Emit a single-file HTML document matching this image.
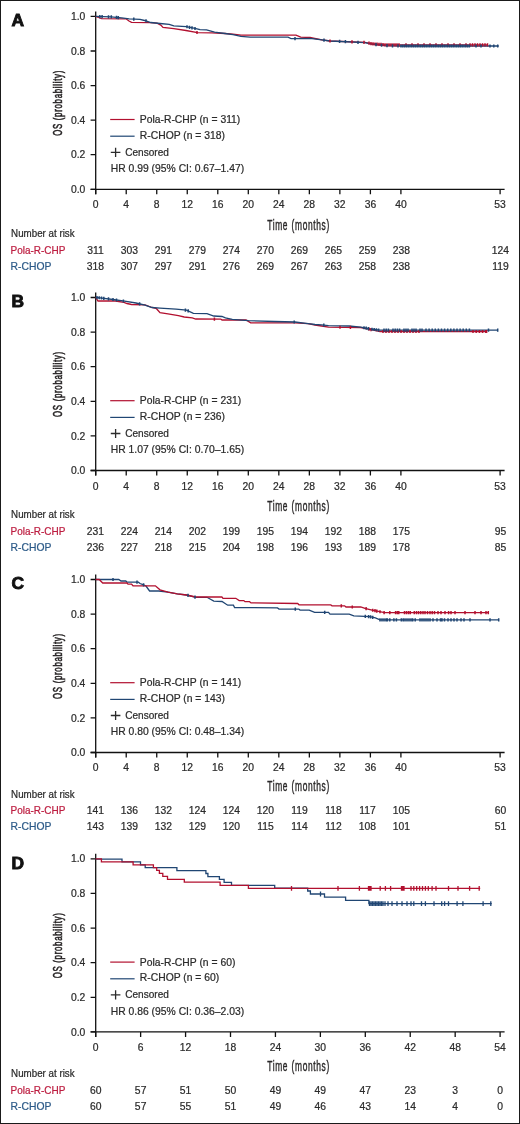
<!DOCTYPE html><html><head><meta charset="utf-8"><title>KM curves</title><style>
html,body{margin:0;padding:0;background:#fff;}svg{display:block;will-change:transform;}
text{font-family:"Liberation Sans",sans-serif;fill:#2b2b2b;}
.t,.c,.r{font-size:10.1px;stroke-width:0.22px;}
.t,.c,.r{stroke:#2b2b2b;}
.c{text-anchor:middle;}
.r{text-anchor:end;}
.L{font-size:17.4px;font-weight:bold;stroke:#111;stroke-width:0.9;fill:#111;}
.ax{stroke:#111;stroke-width:1.3;fill:none;}
.cr{stroke:#b2102f;stroke-width:1.3;fill:none;stroke-linejoin:miter;}
.cb{stroke:#204673;stroke-width:1.3;fill:none;stroke-linejoin:miter;}
.cz{font-size:13.6px;stroke:#231f20;stroke-width:0.4;}
</style></head><body>
<svg width="520" height="1124" viewBox="0 0 520 1124">
<rect x="0.5" y="0.5" width="519" height="1123" fill="#fff" stroke="#1a1a1a" stroke-width="1"/>
<g id="panelA">
<text class="L" x="11.5" y="26.1">A</text>
<path class="ax" d="M95.7 11.4V194.3M90.6 189.3H504.6"/>
<path class="ax" d="M90.6 189.3H95.7M90.6 154.72H95.7M90.6 120.14H95.7M90.6 85.56H95.7M90.6 50.98H95.7M90.6 16.4H95.7M95.7 189.3v5M126.22 189.3v5M156.74 189.3v5M187.26 189.3v5M217.78 189.3v5M248.3 189.3v5M278.82 189.3v5M309.35 189.3v5M339.87 189.3v5M370.39 189.3v5M400.91 189.3v5M500.1 189.3v5"/>
<text class="r" transform="translate(85.3 192.9) scale(1.025 1)">0.0</text>
<text class="r" transform="translate(85.3 158.32) scale(1.025 1)">0.2</text>
<text class="r" transform="translate(85.3 123.74) scale(1.025 1)">0.4</text>
<text class="r" transform="translate(85.3 89.16) scale(1.025 1)">0.6</text>
<text class="r" transform="translate(85.3 54.58) scale(1.025 1)">0.8</text>
<text class="r" transform="translate(85.3 20) scale(1.025 1)">1.0</text>
<text class="c" transform="translate(95.7 208.2) scale(1.025 1)">0</text>
<text class="c" transform="translate(126.22 208.2) scale(1.025 1)">4</text>
<text class="c" transform="translate(156.74 208.2) scale(1.025 1)">8</text>
<text class="c" transform="translate(187.26 208.2) scale(1.025 1)">12</text>
<text class="c" transform="translate(217.78 208.2) scale(1.025 1)">16</text>
<text class="c" transform="translate(248.3 208.2) scale(1.025 1)">20</text>
<text class="c" transform="translate(278.82 208.2) scale(1.025 1)">24</text>
<text class="c" transform="translate(309.35 208.2) scale(1.025 1)">28</text>
<text class="c" transform="translate(339.87 208.2) scale(1.025 1)">32</text>
<text class="c" transform="translate(370.39 208.2) scale(1.025 1)">36</text>
<text class="c" transform="translate(400.91 208.2) scale(1.025 1)">40</text>
<text class="c" transform="translate(500.1 208.2) scale(1.025 1)">53</text>
<text class="cz" style="font-size:14px" letter-spacing="1.1" word-spacing="0.6" transform="translate(267.2 229.8) scale(0.6 1)">Time (months)</text>
<text class="cz" style="font-size:12.9px;stroke-width:0.6px" text-anchor="middle" transform="translate(61.9 102.95) rotate(-90) scale(0.61 1)" letter-spacing="1.15">OS (probability)</text>
<path d="M110.2 119.5H134.6" stroke="#b2102f" stroke-width="1.2"/>
<text class="t" transform="translate(139.8 123) scale(1.025 1)">Pola-R-CHP (n = 311)</text>
<path d="M110.2 136.2H134.6" stroke="#204673" stroke-width="1.2"/>
<text class="t" transform="translate(139.8 138.8) scale(1.025 1)">R-CHOP (n = 318)</text>
<path d="M110.8 152.3H120.4M115.6 147.7V156.9" stroke="#2b2b2b" stroke-width="1.3"/>
<text class="t" transform="translate(125.2 155.8) scale(1.025 1)" textLength="42.6" lengthAdjust="spacingAndGlyphs">Censored</text>
<text class="t" transform="translate(110.8 172) scale(1.025 1)">HR 0.99 (95% CI: 0.67–1.47)</text>
<polyline class="cr" points="95.7,16.4 98.5,17.5 101.6,18.6 126,18.8 129,21 131.5,22.4 150,22.6 157,23.2 160.8,25.1 163,27.4 173.8,28.6 186,30.5 197.5,32.6 212,32.8 225,33.5 233,34.1 241,35.1 296,35.1 300.7,37.2 310,37.5 322,39.8 330,41 365,42.4 371.5,43.7 385,44.8 487.5,44.8"/>
<polyline class="cb" points="95.7,16.4 111,16.9 121.7,17.9 129.2,18.9 140,19.4 144.6,20.5 150.8,22.5 160,23.5 169.2,24.3 173.8,25.8 186.2,26.6 193.8,28.2 200,29.7 206.5,29.9 214.6,32.1 225,33.5 233,34.7 241,36.4 250,37.2 288,37.2 291,38.6 310,38.4 322,39.8 330,41 365,42.6 371.5,44.2 385,45.6 400,46 498.7,46"/>
<path d="M197 30.91v3.2M330 39.4v3.2M352 40.28v3.2M364 40.76v3.2M369 41.6v3.2M371 42v3.2M373 42.22v3.2M375 42.39v3.2M377 42.55v3.2M379 42.71v3.2M381 42.87v3.2M383 43.04v3.2M385 43.2v3.2M387 43.2v3.2M389 43.2v3.2M391 43.2v3.2M393 43.2v3.2M395 43.2v3.2M397 43.2v3.2M399 43.2v3.2M406 43.2v3.2M412 43.2v3.2M418 43.2v3.2M424 43.2v3.2M430 43.2v3.2M436 43.2v3.2M442 43.2v3.2M448 43.2v3.2M454 43.2v3.2M460 43.2v3.2M466 43.2v3.2M470 43.2v3.2M472.5 43.2v3.2M475 43.2v3.2M477.5 43.2v3.2M480 43.2v3.2M482.5 43.2v3.2M485 43.2v3.2M487.5 43.2v3.2" stroke="#b2102f" stroke-width="1.5"/>
<path d="M99.8 14.93v3.2M102.1 15.01v3.2M108.5 15.22v3.2M111.3 15.33v3.2M116.5 15.81v3.2M118.3 15.98v3.2M133.8 17.51v3.2M146 19.35v3.2M187 25.17v3.2M189.5 25.69v3.2M192 26.22v3.2M195 26.89v3.2M295 36.96v3.2M324 38.5v3.2M339.6 39.84v3.2M345.4 40.1v3.2M358 40.68v3.2M376 43.07v3.2M381.5 43.64v3.2M387 44.05v3.2M392.5 44.2v3.2M398 44.35v3.2M401 44.4v3.2M402.8 44.4v3.2M404.6 44.4v3.2M406.4 44.4v3.2M408.2 44.4v3.2M410 44.4v3.2M411.8 44.4v3.2M413.6 44.4v3.2M415.4 44.4v3.2M417.2 44.4v3.2M419 44.4v3.2M420.8 44.4v3.2M422.6 44.4v3.2M424.4 44.4v3.2M426.2 44.4v3.2M428 44.4v3.2M429.8 44.4v3.2M431.6 44.4v3.2M433.4 44.4v3.2M435.2 44.4v3.2M437 44.4v3.2M438.8 44.4v3.2M440.6 44.4v3.2M442.4 44.4v3.2M444.2 44.4v3.2M446 44.4v3.2M447.8 44.4v3.2M449.6 44.4v3.2M451.4 44.4v3.2M453.2 44.4v3.2M455 44.4v3.2M456.8 44.4v3.2M458.6 44.4v3.2M460.4 44.4v3.2M462.2 44.4v3.2M464 44.4v3.2M465.8 44.4v3.2M467.6 44.4v3.2M469.4 44.4v3.2M476 44.4v3.2M481 44.4v3.2M490 44.4v3.2M493.8 44.4v3.2M497.7 44.4v3.2" stroke="#204673" stroke-width="1.5"/>
<text class="t" transform="translate(11.1 237) scale(1.025 1)" textLength="62" lengthAdjust="spacingAndGlyphs">Number at risk</text>
<text class="t" transform="translate(10.5 253.6) scale(1.025 1)" style="fill:#bd1d40;stroke:#bd1d40" textLength="53.6" lengthAdjust="spacingAndGlyphs">Pola-R-CHP</text>
<text class="t" transform="translate(10.6 269.7) scale(1.025 1)" style="fill:#2c5a88;stroke:#2c5a88">R-CHOP</text>
<text class="c" transform="translate(95.4 253.6) scale(1.025 1)">311</text>
<text class="c" transform="translate(129.4 253.6) scale(1.025 1)">303</text>
<text class="c" transform="translate(163.4 253.6) scale(1.025 1)">291</text>
<text class="c" transform="translate(197.4 253.6) scale(1.025 1)">279</text>
<text class="c" transform="translate(231.4 253.6) scale(1.025 1)">274</text>
<text class="c" transform="translate(265.4 253.6) scale(1.025 1)">270</text>
<text class="c" transform="translate(299.4 253.6) scale(1.025 1)">269</text>
<text class="c" transform="translate(333.4 253.6) scale(1.025 1)">265</text>
<text class="c" transform="translate(367.4 253.6) scale(1.025 1)">259</text>
<text class="c" transform="translate(401.4 253.6) scale(1.025 1)">238</text>
<text class="c" transform="translate(500.4 253.6) scale(1.025 1)">124</text>
<text class="c" transform="translate(95.4 269.7) scale(1.025 1)">318</text>
<text class="c" transform="translate(129.4 269.7) scale(1.025 1)">307</text>
<text class="c" transform="translate(163.4 269.7) scale(1.025 1)">297</text>
<text class="c" transform="translate(197.4 269.7) scale(1.025 1)">291</text>
<text class="c" transform="translate(231.4 269.7) scale(1.025 1)">276</text>
<text class="c" transform="translate(265.4 269.7) scale(1.025 1)">269</text>
<text class="c" transform="translate(299.4 269.7) scale(1.025 1)">267</text>
<text class="c" transform="translate(333.4 269.7) scale(1.025 1)">263</text>
<text class="c" transform="translate(367.4 269.7) scale(1.025 1)">258</text>
<text class="c" transform="translate(401.4 269.7) scale(1.025 1)">238</text>
<text class="c" transform="translate(500.4 269.7) scale(1.025 1)">119</text>
</g>
<g id="panelB">
<text class="L" x="11.5" y="307.2">B</text>
<path class="ax" d="M95.7 292.5V475.5M90.6 470.5H504.6"/>
<path class="ax" d="M90.6 470.5H95.7M90.6 435.9H95.7M90.6 401.3H95.7M90.6 366.7H95.7M90.6 332.1H95.7M90.6 297.5H95.7M95.7 470.5v5M126.22 470.5v5M156.74 470.5v5M187.26 470.5v5M217.78 470.5v5M248.3 470.5v5M278.82 470.5v5M309.35 470.5v5M339.87 470.5v5M370.39 470.5v5M400.91 470.5v5M500.1 470.5v5"/>
<text class="r" transform="translate(85.3 474.1) scale(1.025 1)">0.0</text>
<text class="r" transform="translate(85.3 439.5) scale(1.025 1)">0.2</text>
<text class="r" transform="translate(85.3 404.9) scale(1.025 1)">0.4</text>
<text class="r" transform="translate(85.3 370.3) scale(1.025 1)">0.6</text>
<text class="r" transform="translate(85.3 335.7) scale(1.025 1)">0.8</text>
<text class="r" transform="translate(85.3 301.1) scale(1.025 1)">1.0</text>
<text class="c" transform="translate(95.7 489.7) scale(1.025 1)">0</text>
<text class="c" transform="translate(126.22 489.7) scale(1.025 1)">4</text>
<text class="c" transform="translate(156.74 489.7) scale(1.025 1)">8</text>
<text class="c" transform="translate(187.26 489.7) scale(1.025 1)">12</text>
<text class="c" transform="translate(217.78 489.7) scale(1.025 1)">16</text>
<text class="c" transform="translate(248.3 489.7) scale(1.025 1)">20</text>
<text class="c" transform="translate(278.82 489.7) scale(1.025 1)">24</text>
<text class="c" transform="translate(309.35 489.7) scale(1.025 1)">28</text>
<text class="c" transform="translate(339.87 489.7) scale(1.025 1)">32</text>
<text class="c" transform="translate(370.39 489.7) scale(1.025 1)">36</text>
<text class="c" transform="translate(400.91 489.7) scale(1.025 1)">40</text>
<text class="c" transform="translate(500.1 489.7) scale(1.025 1)">53</text>
<text class="cz" style="font-size:14px" letter-spacing="1.1" word-spacing="0.6" transform="translate(267.2 511.4) scale(0.6 1)">Time (months)</text>
<text class="cz" style="font-size:12.9px;stroke-width:0.6px" text-anchor="middle" transform="translate(61.9 384.1) rotate(-90) scale(0.61 1)" letter-spacing="1.15">OS (probability)</text>
<path d="M110.2 400.7H134.6" stroke="#b2102f" stroke-width="1.2"/>
<text class="t" transform="translate(139.8 404.2) scale(1.025 1)">Pola-R-CHP (n = 231)</text>
<path d="M110.2 417.4H134.6" stroke="#204673" stroke-width="1.2"/>
<text class="t" transform="translate(139.8 420) scale(1.025 1)">R-CHOP (n = 236)</text>
<path d="M110.8 433.5H120.4M115.6 428.9V438.1" stroke="#2b2b2b" stroke-width="1.3"/>
<text class="t" transform="translate(125.2 437) scale(1.025 1)" textLength="42.6" lengthAdjust="spacingAndGlyphs">Censored</text>
<text class="t" transform="translate(110.8 453.2) scale(1.025 1)">HR 1.07 (95% CI: 0.70–1.65)</text>
<polyline class="cr" points="95.7,297.5 98,301 115.4,301 124,302.4 127,303.5 131.5,304.5 145,304.8 152,307.5 156.5,308.7 160,312.7 168,313.8 178.4,315.6 184.2,317 192.3,317.9 195.7,319 220.8,319.1 222,320 246,320 250.7,322.9 295,322.9 308,323.6 315,325 321.5,326 328.5,327.1 360.7,327.5 370,329.4 380,331.5 486.6,331.5"/>
<polyline class="cb" points="95.7,297.5 100,297.8 113,299.5 124.6,301.2 136,303 145,305.2 152,307.5 160,308.1 176,309.2 186.5,310.2 193.4,313.3 207,313.7 213.8,316 222,316.5 225.4,317.9 232.3,319.4 248.4,320.6 274.6,321.5 295,322 308,323.6 315,324.5 321.5,324.8 328.5,325.6 349,326 360.7,327.1 370,329 380,330.2 497.9,330.2"/>
<path d="M214.4 317.47v3.2M340 325.64v3.2M350.4 325.77v3.2M369 327.6v3.2M371 328.01v3.2M383 329.9v3.2M386 329.9v3.2M389 329.9v3.2M392 329.9v3.2M395 329.9v3.2M398 329.9v3.2M401 329.9v3.2M404 329.9v3.2M407 329.9v3.2M410 329.9v3.2M413 329.9v3.2M416 329.9v3.2M419 329.9v3.2M473 329.9v3.2M476.2 329.9v3.2M479.4 329.9v3.2M482.6 329.9v3.2M485.8 329.9v3.2M486.6 329.9v3.2" stroke="#b2102f" stroke-width="1.5"/>
<path d="M97 295.99v3.2M99.2 296.14v3.2M101.5 296.4v3.2M103.8 296.7v3.2M108.5 297.31v3.2M113 297.9v3.2M116.5 298.41v3.2M123.4 299.42v3.2M139.6 302.28v3.2M185.4 308.5v3.2M188.2 309.36v3.2M294.2 320.38v3.2M323.8 323.46v3.2M364 326.17v3.2M366.2 326.62v3.2M368.4 327.07v3.2M372 327.64v3.2M374.2 327.9v3.2M376.4 328.17v3.2M378.6 328.43v3.2M384 328.6v3.2M386.2 328.6v3.2M388.4 328.6v3.2M393 328.6v3.2M395.2 328.6v3.2M397.4 328.6v3.2M399.6 328.6v3.2M404 328.6v3.2M406 328.6v3.2M408 328.6v3.2M412 328.6v3.2M414 328.6v3.2M416 328.6v3.2M420 328.6v3.2M422 328.6v3.2M426 328.6v3.2M429.1 328.6v3.2M432.2 328.6v3.2M435.3 328.6v3.2M438.4 328.6v3.2M441.5 328.6v3.2M444.6 328.6v3.2M447.7 328.6v3.2M450.8 328.6v3.2M453.9 328.6v3.2M457 328.6v3.2M460.1 328.6v3.2M463.2 328.6v3.2M466.3 328.6v3.2M469.4 328.6v3.2M488.5 328.6v3.2M497.7 328.6v3.2" stroke="#204673" stroke-width="1.5"/>
<text class="t" transform="translate(11.1 518.3) scale(1.025 1)" textLength="62" lengthAdjust="spacingAndGlyphs">Number at risk</text>
<text class="t" transform="translate(10.5 534.6) scale(1.025 1)" style="fill:#bd1d40;stroke:#bd1d40" textLength="53.6" lengthAdjust="spacingAndGlyphs">Pola-R-CHP</text>
<text class="t" transform="translate(10.6 550.7) scale(1.025 1)" style="fill:#2c5a88;stroke:#2c5a88">R-CHOP</text>
<text class="c" transform="translate(95.4 534.6) scale(1.025 1)">231</text>
<text class="c" transform="translate(129.4 534.6) scale(1.025 1)">224</text>
<text class="c" transform="translate(163.4 534.6) scale(1.025 1)">214</text>
<text class="c" transform="translate(197.4 534.6) scale(1.025 1)">202</text>
<text class="c" transform="translate(231.4 534.6) scale(1.025 1)">199</text>
<text class="c" transform="translate(265.4 534.6) scale(1.025 1)">195</text>
<text class="c" transform="translate(299.4 534.6) scale(1.025 1)">194</text>
<text class="c" transform="translate(333.4 534.6) scale(1.025 1)">192</text>
<text class="c" transform="translate(367.4 534.6) scale(1.025 1)">188</text>
<text class="c" transform="translate(401.4 534.6) scale(1.025 1)">175</text>
<text class="c" transform="translate(500.4 534.6) scale(1.025 1)">95</text>
<text class="c" transform="translate(95.4 550.7) scale(1.025 1)">236</text>
<text class="c" transform="translate(129.4 550.7) scale(1.025 1)">227</text>
<text class="c" transform="translate(163.4 550.7) scale(1.025 1)">218</text>
<text class="c" transform="translate(197.4 550.7) scale(1.025 1)">215</text>
<text class="c" transform="translate(231.4 550.7) scale(1.025 1)">204</text>
<text class="c" transform="translate(265.4 550.7) scale(1.025 1)">198</text>
<text class="c" transform="translate(299.4 550.7) scale(1.025 1)">196</text>
<text class="c" transform="translate(333.4 550.7) scale(1.025 1)">193</text>
<text class="c" transform="translate(367.4 550.7) scale(1.025 1)">189</text>
<text class="c" transform="translate(401.4 550.7) scale(1.025 1)">178</text>
<text class="c" transform="translate(500.4 550.7) scale(1.025 1)">85</text>
</g>
<g id="panelC">
<text class="L" x="11.5" y="589.2">C</text>
<path class="ax" d="M95.7 574.5V757.5M90.6 752.5H504.6"/>
<path class="ax" d="M90.6 752.5H95.7M90.6 717.9H95.7M90.6 683.3H95.7M90.6 648.7H95.7M90.6 614.1H95.7M90.6 579.5H95.7M95.7 752.5v5M126.22 752.5v5M156.74 752.5v5M187.26 752.5v5M217.78 752.5v5M248.3 752.5v5M278.82 752.5v5M309.35 752.5v5M339.87 752.5v5M370.39 752.5v5M400.91 752.5v5M500.1 752.5v5"/>
<text class="r" transform="translate(85.3 756.1) scale(1.025 1)">0.0</text>
<text class="r" transform="translate(85.3 721.5) scale(1.025 1)">0.2</text>
<text class="r" transform="translate(85.3 686.9) scale(1.025 1)">0.4</text>
<text class="r" transform="translate(85.3 652.3) scale(1.025 1)">0.6</text>
<text class="r" transform="translate(85.3 617.7) scale(1.025 1)">0.8</text>
<text class="r" transform="translate(85.3 583.1) scale(1.025 1)">1.0</text>
<text class="c" transform="translate(95.7 771.2) scale(1.025 1)">0</text>
<text class="c" transform="translate(126.22 771.2) scale(1.025 1)">4</text>
<text class="c" transform="translate(156.74 771.2) scale(1.025 1)">8</text>
<text class="c" transform="translate(187.26 771.2) scale(1.025 1)">12</text>
<text class="c" transform="translate(217.78 771.2) scale(1.025 1)">16</text>
<text class="c" transform="translate(248.3 771.2) scale(1.025 1)">20</text>
<text class="c" transform="translate(278.82 771.2) scale(1.025 1)">24</text>
<text class="c" transform="translate(309.35 771.2) scale(1.025 1)">28</text>
<text class="c" transform="translate(339.87 771.2) scale(1.025 1)">32</text>
<text class="c" transform="translate(370.39 771.2) scale(1.025 1)">36</text>
<text class="c" transform="translate(400.91 771.2) scale(1.025 1)">40</text>
<text class="c" transform="translate(500.1 771.2) scale(1.025 1)">53</text>
<text class="cz" style="font-size:14px" letter-spacing="1.1" word-spacing="0.6" transform="translate(267.2 791.4) scale(0.6 1)">Time (months)</text>
<text class="cz" style="font-size:12.9px;stroke-width:0.6px" text-anchor="middle" transform="translate(61.9 666.1) rotate(-90) scale(0.61 1)" letter-spacing="1.15">OS (probability)</text>
<path d="M110.2 682.7H134.6" stroke="#b2102f" stroke-width="1.2"/>
<text class="t" transform="translate(139.8 686.2) scale(1.025 1)">Pola-R-CHP (n = 141)</text>
<path d="M110.2 699.4H134.6" stroke="#204673" stroke-width="1.2"/>
<text class="t" transform="translate(139.8 702) scale(1.025 1)">R-CHOP (n = 143)</text>
<path d="M110.8 715.5H120.4M115.6 710.9V720.1" stroke="#2b2b2b" stroke-width="1.3"/>
<text class="t" transform="translate(125.2 719) scale(1.025 1)" textLength="42.6" lengthAdjust="spacingAndGlyphs">Censored</text>
<text class="t" transform="translate(110.8 735.2) scale(1.025 1)">HR 0.80 (95% CI: 0.48–1.34)</text>
<polyline class="cb" points="95.7,579.5 118.8,579.5 121,581 125.8,581 127,582.2 138.4,582.2 140,583.5 143,584.7 146,586 149.6,591 158.8,591 168,592.1 177.3,593.8 186.5,595 195.7,597.3 207,597.3 213.8,601.1 222,601.5 227.7,605.2 233.4,605.2 234.6,607.5 277.5,607.9 279,609.1 298.8,609.1 300,610 309.2,610.1 314.6,612.4 328.5,612.4 330,614.1 349.2,614.1 353.8,615.9 370,616.7 375.4,617.9 380,619.9 498.7,619.9"/>
<polyline class="cr" points="95.7,579.5 99.2,579.5 102.7,583 127,583 128,584.1 131.5,584.1 133,585.8 155.4,585.8 160,589.8 168,592.1 177.3,593.8 186.5,595 195.7,597 221.9,597 223,598.3 235.8,598.3 239.2,600.6 243.8,600.6 245,601.7 249.6,601.7 251,602.9 297.7,603.5 299,604.8 330.8,604.9 332,605.8 344.6,605.8 346,607 360.7,607 365,608.4 372,610.1 384.6,612.7 488.3,612.7"/>
<path d="M113 577.9v3.2M137 580.6v3.2M143.6 583.36v3.2M188 593.77v3.2M195 595.52v3.2M295.3 607.5v3.2M324.7 610.8v3.2M365.3 614.87v3.2M368.6 615.03v3.2M370.6 615.23v3.2M372.7 615.7v3.2M380 618.3v3.2M382 618.3v3.2M384 618.3v3.2M386 618.3v3.2M387.4 618.3v3.2M389.8 618.3v3.2M393.9 618.3v3.2M396.4 618.3v3.2M401.3 618.3v3.2M403.2 618.3v3.2M405 618.3v3.2M407 618.3v3.2M409 618.3v3.2M411 618.3v3.2M412.7 618.3v3.2M415.2 618.3v3.2M420 618.3v3.2M422 618.3v3.2M424 618.3v3.2M426 618.3v3.2M428 618.3v3.2M430 618.3v3.2M433 618.3v3.2M437 618.3v3.2M440.5 618.3v3.2M442 618.3v3.2M444.5 618.3v3.2M448 618.3v3.2M451 618.3v3.2M454 618.3v3.2M457 618.3v3.2M461 618.3v3.2M464 618.3v3.2M470 618.3v3.2M490 618.3v3.2M498.7 618.3v3.2" stroke="#204673" stroke-width="1.5"/>
<path d="M341.3 604.2v3.2M352.3 605.4v3.2M366.1 607.07v3.2M372.7 608.64v3.2M375 609.12v3.2M376.8 609.49v3.2M380 610.15v3.2M384.1 611v3.2M389.8 611.1v3.2M395.6 611.1v3.2M397.4 611.1v3.2M398.8 611.1v3.2M404.5 611.1v3.2M406.5 611.1v3.2M408.5 611.1v3.2M410.3 611.1v3.2M414.3 611.1v3.2M416.5 611.1v3.2M418.6 611.1v3.2M420.8 611.1v3.2M423 611.1v3.2M425 611.1v3.2M427.5 611.1v3.2M430 611.1v3.2M432.2 611.1v3.2M434.5 611.1v3.2M438 611.1v3.2M441 611.1v3.2M445 611.1v3.2M448.6 611.1v3.2M451 611.1v3.2M455 611.1v3.2M465 611.1v3.2M475 611.1v3.2M481 611.1v3.2M486 611.1v3.2M488.3 611.1v3.2" stroke="#b2102f" stroke-width="1.5"/>
<text class="t" transform="translate(11.1 797.7) scale(1.025 1)" textLength="62" lengthAdjust="spacingAndGlyphs">Number at risk</text>
<text class="t" transform="translate(10.5 814) scale(1.025 1)" style="fill:#bd1d40;stroke:#bd1d40" textLength="53.6" lengthAdjust="spacingAndGlyphs">Pola-R-CHP</text>
<text class="t" transform="translate(10.6 830.2) scale(1.025 1)" style="fill:#2c5a88;stroke:#2c5a88">R-CHOP</text>
<text class="c" transform="translate(95.4 814) scale(1.025 1)">141</text>
<text class="c" transform="translate(129.4 814) scale(1.025 1)">136</text>
<text class="c" transform="translate(163.4 814) scale(1.025 1)">132</text>
<text class="c" transform="translate(197.4 814) scale(1.025 1)">124</text>
<text class="c" transform="translate(231.4 814) scale(1.025 1)">124</text>
<text class="c" transform="translate(265.4 814) scale(1.025 1)">120</text>
<text class="c" transform="translate(299.4 814) scale(1.025 1)">119</text>
<text class="c" transform="translate(333.4 814) scale(1.025 1)">118</text>
<text class="c" transform="translate(367.4 814) scale(1.025 1)">117</text>
<text class="c" transform="translate(401.4 814) scale(1.025 1)">105</text>
<text class="c" transform="translate(500.4 814) scale(1.025 1)">60</text>
<text class="c" transform="translate(95.4 830.2) scale(1.025 1)">143</text>
<text class="c" transform="translate(129.4 830.2) scale(1.025 1)">139</text>
<text class="c" transform="translate(163.4 830.2) scale(1.025 1)">132</text>
<text class="c" transform="translate(197.4 830.2) scale(1.025 1)">129</text>
<text class="c" transform="translate(231.4 830.2) scale(1.025 1)">120</text>
<text class="c" transform="translate(265.4 830.2) scale(1.025 1)">115</text>
<text class="c" transform="translate(299.4 830.2) scale(1.025 1)">114</text>
<text class="c" transform="translate(333.4 830.2) scale(1.025 1)">112</text>
<text class="c" transform="translate(367.4 830.2) scale(1.025 1)">108</text>
<text class="c" transform="translate(401.4 830.2) scale(1.025 1)">101</text>
<text class="c" transform="translate(500.4 830.2) scale(1.025 1)">51</text>
</g>
<g id="panelD">
<text class="L" x="11.5" y="868.5">D</text>
<path class="ax" d="M95.7 853.8V1036.9M90.6 1031.9H504.6"/>
<path class="ax" d="M90.6 1031.9H95.7M90.6 997.28H95.7M90.6 962.66H95.7M90.6 928.04H95.7M90.6 893.42H95.7M90.6 858.8H95.7M95.7 1031.9v5M140.63 1031.9v5M185.57 1031.9v5M230.5 1031.9v5M275.43 1031.9v5M320.37 1031.9v5M365.3 1031.9v5M410.23 1031.9v5M455.17 1031.9v5M500.1 1031.9v5"/>
<text class="r" transform="translate(85.3 1035.5) scale(1.025 1)">0.0</text>
<text class="r" transform="translate(85.3 1000.88) scale(1.025 1)">0.2</text>
<text class="r" transform="translate(85.3 966.26) scale(1.025 1)">0.4</text>
<text class="r" transform="translate(85.3 931.64) scale(1.025 1)">0.6</text>
<text class="r" transform="translate(85.3 897.02) scale(1.025 1)">0.8</text>
<text class="r" transform="translate(85.3 862.4) scale(1.025 1)">1.0</text>
<text class="c" transform="translate(95.7 1050.5) scale(1.025 1)">0</text>
<text class="c" transform="translate(140.63 1050.5) scale(1.025 1)">6</text>
<text class="c" transform="translate(185.57 1050.5) scale(1.025 1)">12</text>
<text class="c" transform="translate(230.5 1050.5) scale(1.025 1)">18</text>
<text class="c" transform="translate(275.43 1050.5) scale(1.025 1)">24</text>
<text class="c" transform="translate(320.37 1050.5) scale(1.025 1)">30</text>
<text class="c" transform="translate(365.3 1050.5) scale(1.025 1)">36</text>
<text class="c" transform="translate(410.23 1050.5) scale(1.025 1)">42</text>
<text class="c" transform="translate(455.17 1050.5) scale(1.025 1)">48</text>
<text class="c" transform="translate(500.1 1050.5) scale(1.025 1)">54</text>
<text class="cz" style="font-size:14px" letter-spacing="1.1" word-spacing="0.6" transform="translate(267.2 1070.6) scale(0.6 1)">Time (months)</text>
<text class="cz" style="font-size:12.9px;stroke-width:0.6px" text-anchor="middle" transform="translate(61.9 945.45) rotate(-90) scale(0.61 1)" letter-spacing="1.15">OS (probability)</text>
<path d="M110.2 962.1H134.6" stroke="#b2102f" stroke-width="1.2"/>
<text class="t" transform="translate(139.8 965.6) scale(1.025 1)">Pola-R-CHP (n = 60)</text>
<path d="M110.2 978.8H134.6" stroke="#204673" stroke-width="1.2"/>
<text class="t" transform="translate(139.8 981.4) scale(1.025 1)">R-CHOP (n = 60)</text>
<path d="M110.8 994.9H120.4M115.6 990.3V999.5" stroke="#2b2b2b" stroke-width="1.3"/>
<text class="t" transform="translate(125.2 998.4) scale(1.025 1)" textLength="42.6" lengthAdjust="spacingAndGlyphs">Censored</text>
<text class="t" transform="translate(110.8 1014.6) scale(1.025 1)">HR 0.86 (95% CI: 0.36–2.03)</text>
<polyline class="cb" points="95.6,859.1 122,859.1 122,861.9 140.5,861.8 140.5,864.9 145.2,864.9 145.2,867.6 176.9,867.6 176.9,870.6 205.9,870.6 205.9,873.5 207.9,873.5 207.9,876.6 219.4,876.6 219.4,879.3 224.1,879.3 224.1,882.3 231.5,882.3 231.5,885.3 274.7,885.3 274.7,888.2 307.7,888.2 307.7,891 310.4,891 310.4,894 324.5,894 324.5,897.2 345.6,897.2 345.6,900.4 368.9,900.4 368.9,903.6 491.7,903.6"/>
<polyline class="cr" points="95.6,858.8 101.4,858.8 101.4,861.8 133.1,861.8 133.1,864.9 153.4,864.9 153.4,867.6 156.7,867.6 156.7,870.3 159.4,870.3 159.4,873.3 162.8,873.3 162.8,876.4 167.5,876.4 167.5,879.3 184.3,879.3 184.3,882.2 220.1,882.2 220.1,885.3 248.4,885.3 248.4,888.3 480.2,888.3"/>
<path d="M320.5 891.6v4.8M369.5 901.2v4.8M371 901.2v4.8M372.5 901.2v4.8M374 901.2v4.8M375.5 901.2v4.8M377 901.2v4.8M378.5 901.2v4.8M380 901.2v4.8M381.5 901.2v4.8M383 901.2v4.8M385 901.2v4.8M388 901.2v4.8M392 901.2v4.8M397 901.2v4.8M402 901.2v4.8M407 901.2v4.8M411 901.2v4.8M413.8 901.2v4.8M421.5 901.2v4.8M425.4 901.2v4.8M434 901.2v4.8M441.7 901.2v4.8M444.6 901.2v4.8M448.5 901.2v4.8M457.1 901.2v4.8M462.9 901.2v4.8M483.1 901.2v4.8M490.8 901.2v4.8" stroke="#204673" stroke-width="1.3"/>
<path d="M291.5 885.9v4.8M338 885.9v4.8M359.4 885.9v4.8M368.5 885.9v4.8M369.8 885.9v4.8M371 885.9v4.8M380.2 885.9v4.8M385.4 885.9v4.8M390.6 885.9v4.8M401.5 885.9v4.8M402.7 885.9v4.8M404 885.9v4.8M411 885.9v4.8M413.8 885.9v4.8M416.7 885.9v4.8M419.6 885.9v4.8M422.5 885.9v4.8M425.4 885.9v4.8M428.3 885.9v4.8M432.1 885.9v4.8M436 885.9v4.8M448.5 885.9v4.8M458 885.9v4.8M469.6 885.9v4.8M479.2 885.9v4.8" stroke="#b2102f" stroke-width="1.3"/>
<text class="t" transform="translate(11.1 1077.3) scale(1.025 1)" textLength="62" lengthAdjust="spacingAndGlyphs">Number at risk</text>
<text class="t" transform="translate(10.5 1093.8) scale(1.025 1)" style="fill:#bd1d40;stroke:#bd1d40" textLength="53.6" lengthAdjust="spacingAndGlyphs">Pola-R-CHP</text>
<text class="t" transform="translate(10.6 1110.2) scale(1.025 1)" style="fill:#2c5a88;stroke:#2c5a88">R-CHOP</text>
<text class="c" transform="translate(95.7 1093.8) scale(1.025 1)">60</text>
<text class="c" transform="translate(140.63 1093.8) scale(1.025 1)">57</text>
<text class="c" transform="translate(185.57 1093.8) scale(1.025 1)">51</text>
<text class="c" transform="translate(230.5 1093.8) scale(1.025 1)">50</text>
<text class="c" transform="translate(275.43 1093.8) scale(1.025 1)">49</text>
<text class="c" transform="translate(320.37 1093.8) scale(1.025 1)">49</text>
<text class="c" transform="translate(365.3 1093.8) scale(1.025 1)">47</text>
<text class="c" transform="translate(410.23 1093.8) scale(1.025 1)">23</text>
<text class="c" transform="translate(455.17 1093.8) scale(1.025 1)">3</text>
<text class="c" transform="translate(500.1 1093.8) scale(1.025 1)">0</text>
<text class="c" transform="translate(95.7 1110.2) scale(1.025 1)">60</text>
<text class="c" transform="translate(140.63 1110.2) scale(1.025 1)">57</text>
<text class="c" transform="translate(185.57 1110.2) scale(1.025 1)">55</text>
<text class="c" transform="translate(230.5 1110.2) scale(1.025 1)">51</text>
<text class="c" transform="translate(275.43 1110.2) scale(1.025 1)">49</text>
<text class="c" transform="translate(320.37 1110.2) scale(1.025 1)">46</text>
<text class="c" transform="translate(365.3 1110.2) scale(1.025 1)">43</text>
<text class="c" transform="translate(410.23 1110.2) scale(1.025 1)">14</text>
<text class="c" transform="translate(455.17 1110.2) scale(1.025 1)">4</text>
<text class="c" transform="translate(500.1 1110.2) scale(1.025 1)">0</text>
</g>
</svg></body></html>
